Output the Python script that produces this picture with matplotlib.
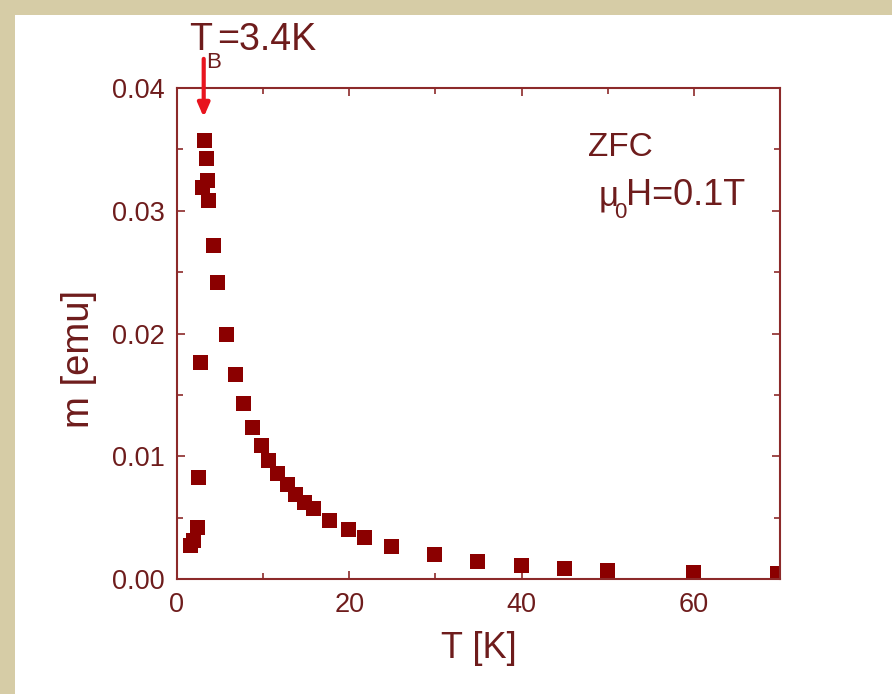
import matplotlib
matplotlib.use("Agg")
import matplotlib.pyplot as plt
from matplotlib.patches import Rectangle
from matplotlib.ticker import MultipleLocator

plt.rcParams['font.family'] = ['Liberation Sans', 'DejaVu Sans']

# ZFC magnetisation vs temperature
temp_K = [1.5, 1.9, 2.3, 2.4, 2.7, 2.9, 3.1, 3.4, 3.5, 3.6, 4.2, 4.65, 5.7, 6.7,
          7.7, 8.7, 9.7, 10.6, 11.6, 12.8, 13.7, 14.7, 15.8, 17.7, 19.8, 21.7,
          24.8, 29.8, 34.8, 39.9, 44.9, 49.9, 59.9, 69.7]
moment_emu = [0.0028, 0.0032, 0.0042, 0.0083, 0.0177, 0.0319, 0.0358, 0.0343,
              0.0325, 0.0309, 0.0272, 0.0242, 0.0200, 0.0167, 0.0143, 0.0124,
              0.0109, 0.0097, 0.0086, 0.0077, 0.0069, 0.0063, 0.0058, 0.0048,
              0.0041, 0.0034, 0.0027, 0.0020, 0.0015, 0.0011, 0.0009, 0.0007,
              0.0006, 0.0005]
T_block = 3.1

axis_col = '#8c2a2a'
text_col = '#6e1c1c'
mark_col = '#8b0000'

fig = plt.figure(figsize=(8.92, 6.94), dpi=100)
fig.patch.set_facecolor('#d6cca6')
# white page area, beige strip left and top
fig.patches.append(Rectangle((15 / 892, 0), 1, 1 - 15 / 694, transform=fig.transFigure,
                             facecolor='white', edgecolor='none', zorder=-10))

ax = fig.add_axes([177 / 892, 1 - 579 / 694, 603 / 892, 491 / 694])
ax.set_facecolor('white')
ax.plot(temp_K, moment_emu, 's', color=mark_col, markersize=10.8, markeredgewidth=0)

ax.set_xlim(0, 70)
ax.set_ylim(0, 0.04)
ax.xaxis.set_major_locator(MultipleLocator(20))
ax.xaxis.set_minor_locator(MultipleLocator(10))
ax.yaxis.set_major_locator(MultipleLocator(0.01))
ax.yaxis.set_minor_locator(MultipleLocator(0.005))
ax.yaxis.set_major_formatter(plt.FormatStrFormatter('%.2f'))

for s in ax.spines.values():
    s.set_color(axis_col)
    s.set_linewidth(1.5)
ax.tick_params(which='both', direction='in', top=True, right=True, color=axis_col, width=1.2)
ax.tick_params(which='major', length=6, pad=9, labelsize=19.5, labelcolor=text_col)
ax.tick_params(which='minor', length=4)

ax.set_xlabel('T [K]', fontsize=26, color=text_col, labelpad=10)
ax.set_ylabel('m [emu]', fontsize=27.5, color=text_col)
ax.yaxis.set_label_coords(-0.133, 0.448)

ax.text(47.7, 0.0345, 'ZFC', fontsize=24, color=text_col, va='baseline')
# mu_0 H label, subscript placed by hand so it sits low
fig.text(599 / 892, 1 - 205 / 694, 'μ', fontsize=25, color=text_col, va='baseline')
fig.text(614 / 892, 1 - 218 / 694, '0', fontsize=16, color=text_col, va='baseline')
fig.text(626 / 892, 1 - 205 / 694, 'H=0.1T', fontsize=26, color=text_col, va='baseline')

# blocking temperature label and arrow
fig.text(189 / 892, 1 - 50 / 694, 'T', fontsize=27, color=text_col, va='baseline')
fig.text(206 / 892, 1 - 68 / 694, 'B', fontsize=16, color=text_col, va='baseline')
fig.text(217 / 892, 1 - 50 / 694, '=3.4K', fontsize=27, color=text_col, va='baseline')
ax.annotate('', xy=(T_block, 0.0374), xytext=(T_block, 0.0426),
            arrowprops=dict(arrowstyle='-|>,head_width=0.35,head_length=0.8',
                            color='#e8141e', lw=3),
            annotation_clip=False)

fig.savefig('out.png', dpi=100, facecolor=fig.get_facecolor())
